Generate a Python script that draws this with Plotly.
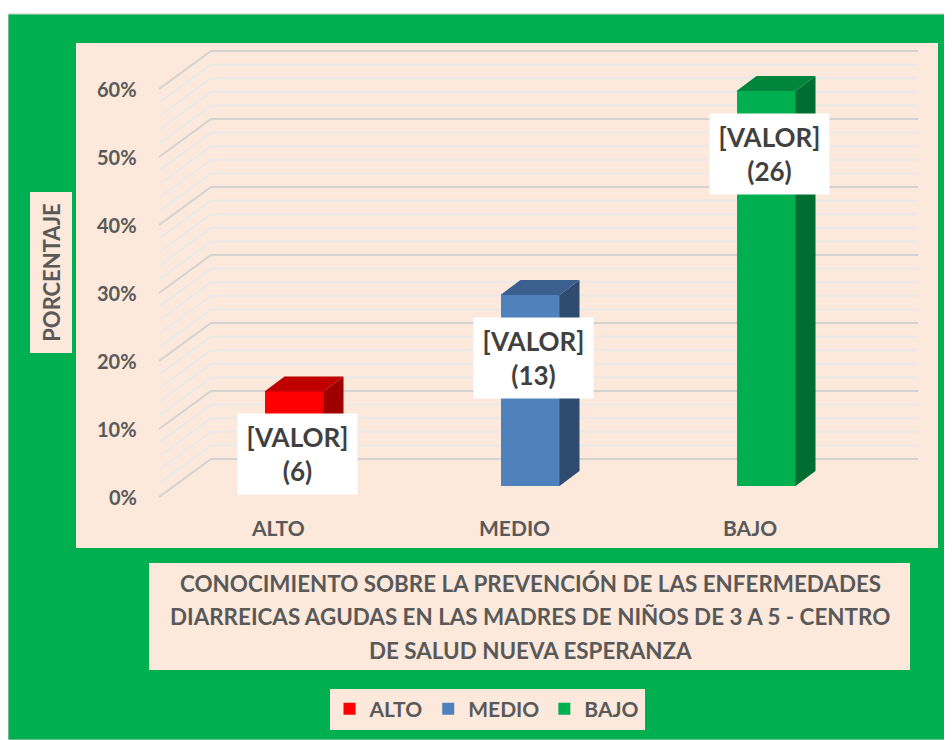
import plotly.graph_objects as go

# ---------------- data ----------------
categories = ["ALTO", "MEDIO", "BAJO"]
percent_values = [13.9, 28.1, 58.1]
count_values = [6, 13, 26]
y_tick_values = [0, 10, 20, 30, 40, 50, 60]
y_tick_labels = ["0%", "10%", "20%", "30%", "40%", "50%", "60%"]
minor_step = 2
value_label_text = "[VALOR]"
title_lines = ["CONOCIMIENTO SOBRE LA PREVENCIÓN DE LAS ENFERMEDADES",
               "DIARREICAS AGUDAS EN LAS MADRES DE NIÑOS DE 3 A 5 - CENTRO",
               "DE SALUD NUEVA ESPERANZA"]
y_axis_title = "PORCENTAJE"

# ---------------- styling / geometry ----------------
OFF = 8                      # page body margin of the browser
W, H = 952 - OFF, 740 - OFF  # figure size
FONT = "Lato"
GRAY = "#595959"
PEACH = "#FDE9DC"
GREEN_BG = "#00B050"
front_colors = ["#FF0000", "#4F81BD", "#00B050"]
top_colors = ["#C00000", "#3B6090", "#00853C"]
side_colors = ["#9E0000", "#2E4B70", "#006E30"]


def pxp(p):  # page x pixel -> paper x
    return (p - OFF) / W


def pyp(p):  # page y pixel -> paper y
    return 1 - (p - OFF) / H


def bold(t):
    return "<b>" + t.replace("<br>", "</b><br><b>") + "</b>"


PLOT_L, PLOT_R, PLOT_T, PLOT_B = 76, 938, 43, 548
CAT0_PX, CAT_STEP = 278, 236
Y0_PX, PX_PER_PCT = 497, 6.8


def px_x(d):   # pixel distance -> x data units
    return d / CAT_STEP


def px_y(d):   # pixel distance -> y data units
    return d / PX_PER_PCT


x_range = [px_x(PLOT_L - CAT0_PX), px_x(PLOT_R - CAT0_PX)]
y_range = [px_y(Y0_PX - PLOT_B), px_y(Y0_PX - PLOT_T)]

WALL_LEFT = px_x(159 - CAT0_PX)
WALL_RIGHT = px_x(918 - CAT0_PX)
WALL_DX, WALL_DY = px_x(52), px_y(38)
BAR_SHIFT, BAR_W = px_x(16), px_x(59)
BAR_DX, BAR_DY = px_x(20), px_y(15)
BAR_RAISE = px_y(11)

fig = go.Figure()

# ---------------- bars (front faces + 3D top/side) ----------------
for i, (cat, v) in enumerate(zip(categories, percent_values)):
    xc = i + BAR_SHIFT
    fig.add_trace(go.Bar(
        x=[xc], y=[v], base=BAR_RAISE, width=BAR_W, name=bold(cat),
        marker=dict(color=front_colors[i], line=dict(width=0)),
        hoverinfo="skip"))
    xl, xr = xc - BAR_W / 2, xc + BAR_W / 2
    yb, yt = BAR_RAISE, BAR_RAISE + v
    fig.add_trace(go.Scatter(
        x=[xl, xr, xr + BAR_DX, xl + BAR_DX, xl],
        y=[yt, yt, yt + BAR_DY, yt + BAR_DY, yt],
        fill="toself", fillcolor=top_colors[i], mode="lines",
        line=dict(width=0, color=top_colors[i]), showlegend=False,
        hoverinfo="skip"))
    fig.add_trace(go.Scatter(
        x=[xr, xr + BAR_DX, xr + BAR_DX, xr, xr],
        y=[yb, yb + BAR_DY, yt + BAR_DY, yt, yb],
        fill="toself", fillcolor=side_colors[i], mode="lines",
        line=dict(width=0, color=side_colors[i]), showlegend=False,
        hoverinfo="skip"))

# ---------------- backgrounds ----------------
shapes = [
    dict(type="rect", xref="paper", yref="paper",
         x0=0, x1=1, y0=0, y1=pyp(14),
         fillcolor=GREEN_BG, line=dict(color="#D0D0D0", width=1),
         layer="below"),
    dict(type="rect", xref="paper", yref="paper",
         x0=pxp(PLOT_L), x1=pxp(PLOT_R), y0=pyp(PLOT_B), y1=pyp(PLOT_T),
         fillcolor=PEACH, line=dict(width=0), layer="below"),
    # title box
    dict(type="rect", xref="paper", yref="paper",
         x0=pxp(149), x1=pxp(910), y0=pyp(670), y1=pyp(563),
         fillcolor=PEACH, line=dict(width=0), layer="below"),
]

# ---------------- perspective gridlines ----------------
top_val = y_tick_values[-1]
v = 0
while v <= top_val:
    major = v in y_tick_values
    col = "#D3D3D3" if major else "#E9E9E9"
    path = (f"M {WALL_LEFT},{v} L {WALL_LEFT + WALL_DX},{v + WALL_DY} "
            f"L {WALL_RIGHT},{v + WALL_DY}")
    shapes.append(dict(type="path", xref="x", yref="y", path=path,
                       line=dict(color=col, width=2), layer="below"))
    v += minor_step

annotations = []
# y tick labels
for tv, tl in zip(y_tick_values, y_tick_labels):
    annotations.append(dict(x=px_x(139 - CAT0_PX), y=tv, xref="x", yref="y",
                            text=bold(tl), showarrow=False, xanchor="right",
                            yanchor="middle",
                            font=dict(family=FONT, size=20, color=GRAY)))
# category labels
for i, cat in enumerate(categories):
    annotations.append(dict(x=i, y=px_y(Y0_PX - 527), xref="x", yref="y",
                            text=bold(cat), showarrow=False, xanchor="center",
                            yanchor="middle",
                            font=dict(family=FONT, size=21, color=GRAY)))
# data labels
for i, (v, c) in enumerate(zip(percent_values, count_values)):
    annotations.append(dict(x=i + BAR_SHIFT + px_x(3), y=BAR_RAISE + v,
                            xref="x", yref="y", yshift=-63,
                            text=bold(f"{value_label_text}<br>({c})"),
                            showarrow=False, xanchor="center",
                            yanchor="middle", bgcolor="white",
                            width=119, height=80, borderpad=0,
                            font=dict(family=FONT, size=26, color="#404040")))
# chart title (below plot), one annotation per line
for k, line in enumerate(title_lines):
    annotations.append(dict(x=pxp(530), y=pyp(583 + 33.5 * k),
                            xref="paper", yref="paper",
                            text=bold(line), showarrow=False,
                            xanchor="center", yanchor="middle",
                            font=dict(family=FONT, size=22.4, color=GRAY)))
# y-axis title
annotations.append(dict(x=pxp(50.5), y=pyp(273), xref="paper", yref="paper",
                        text=bold(y_axis_title), showarrow=False,
                        textangle=-90, xanchor="center", yanchor="middle",
                        bgcolor=PEACH, width=160, height=41, borderpad=0,
                        font=dict(family=FONT, size=22, color=GRAY)))

fig.update_layout(
    width=W, height=H, margin=dict(l=0, r=0, t=0, b=0),
    paper_bgcolor="white", plot_bgcolor="rgba(0,0,0,0)",
    barmode="overlay", bargap=0,
    xaxis=dict(domain=[pxp(PLOT_L), pxp(PLOT_R)], range=x_range,
               showgrid=False, zeroline=False, showticklabels=False,
               showline=False, fixedrange=True),
    yaxis=dict(domain=[pyp(PLOT_B), pyp(PLOT_T)], range=y_range,
               showgrid=False, zeroline=False, showticklabels=False,
               showline=False, fixedrange=True),
    showlegend=True,
    legend=dict(orientation="h", x=pxp(487), xanchor="center",
                y=pyp(709), yanchor="middle", bgcolor=PEACH,
                itemwidth=30, traceorder="normal",
                font=dict(family=FONT, size=21, color=GRAY)),
    shapes=shapes, annotations=annotations,
)

fig.write_html("out.html")
